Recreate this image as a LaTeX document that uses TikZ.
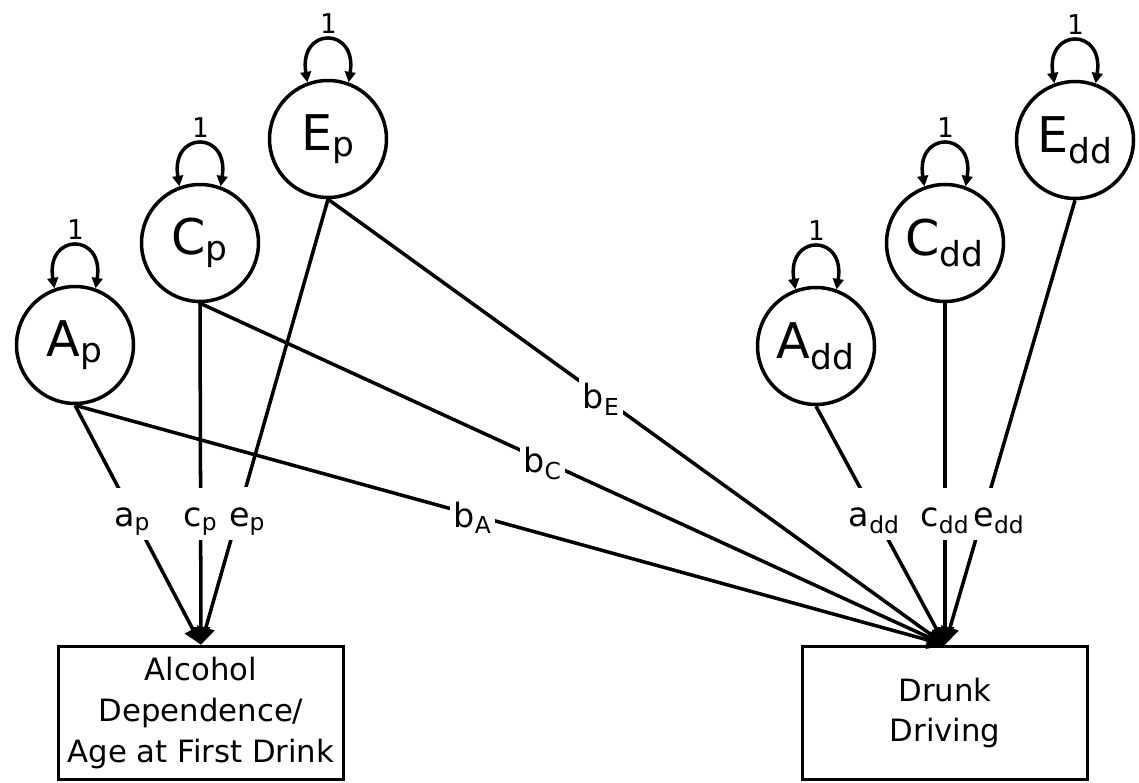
\documentclass[tikz,border=0pt]{standalone}
\usepackage{fontspec}
\setmainfont{DejaVu Sans}
\newfontfamily\onefont{DejaVu Sans Mono}
\usetikzlibrary{arrows.meta}

\begin{document}
\begin{tikzpicture}[x=0.02cm, y=-0.02cm, line width=2pt,
    latent/.style={draw, circle, minimum size=2.34cm, inner sep=0pt, font=\fontsize{28}{30}\selectfont},
    measured/.style={draw, rectangle, minimum width=5.7cm, minimum height=2.66cm, inner sep=0pt, align=center, font=\fontsize{17.5}{23.3}\selectfont},
    effect/.style={-{Triangle[length=10pt,width=10pt]}},
    varloop/.style={{Triangle[length=6pt,width=6pt]}-{Triangle[length=6pt,width=6pt]}},
    lbl/.style={fill=white, inner xsep=2pt, inner ysep=0pt, text height=22pt, text depth=8pt, font=\fontsize{19}{22}\selectfont},
    one/.style={font=\onefont\fontsize{15.5}{17}\selectfont, inner sep=3pt, above}]
    \useasboundingbox (0,0) rectangle (1139,783);

    % Latent factors
    \node[latent] (Ap)  at (75,345)   {A\textsubscript{p}};
    \node[latent] (Cp)  at (200,243)  {C\textsubscript{p}};
    \node[latent] (Ep)  at (328,139)  {E\textsubscript{p}};
    \node[latent] (Add) at (816,346)  {A\textsubscript{dd}};
    \node[latent] (Cdd) at (945,243)  {C\textsubscript{dd}};
    \node[latent] (Edd) at (1075,140) {E\textsubscript{dd}};

    % Phenotypes
    \node[measured] (AD) at (201,713) {Alcohol\\Dependence/\\Age at First Drink};
    \node[measured] (DD) at (945,713) {Drunk\\Driving};

    % Variances
    \foreach \f in {Ap,Cp,Ep,Add,Cdd,Edd}
        \draw[varloop] (\f.110) .. controls +(-9,-56) and +(9,-56) .. (\f.70)
            node[one, midway] (\f-one) {1};

    % Paths to alcohol phenotype
    \draw[effect] (Ap.south) -- node[lbl, pos=0.454] (ap) {a\textsubscript{p}} (AD.north);
    \draw[effect] (Cp.south) -- node[lbl, pos=0.617] (cp) {c\textsubscript{p}} (AD.north);
    \draw[effect] (Ep.south) -- node[lbl, pos=0.706, xshift=5pt] (ep) {e\textsubscript{p}} (AD.north);

    % Paths to drunk driving
    \draw[effect] (Add.south) -- node[lbl, pos=0.452] (add) {a\textsubscript{dd}} (DD.north);
    \draw[effect] (Cdd.south) -- node[lbl, pos=0.617] (cdd) {c\textsubscript{dd}} (DD.north);
    \draw[effect] (Edd.south) -- node[lbl, pos=0.706, xshift=9pt] (edd) {e\textsubscript{dd}} (DD.north);

    % Cross paths
    \draw[effect] (Ap.south) -- node[lbl, pos=0.457] (bA) {b\textsubscript{A}} (DD.north);
    \draw[effect] (Cp.south) -- node[lbl, pos=0.46] (bC) {b\textsubscript{C}} (DD.north);
    \draw[effect] (Ep.south) -- node[lbl, pos=0.443] (bE) {b\textsubscript{E}} (DD.north);
\end{tikzpicture}
\end{document}
